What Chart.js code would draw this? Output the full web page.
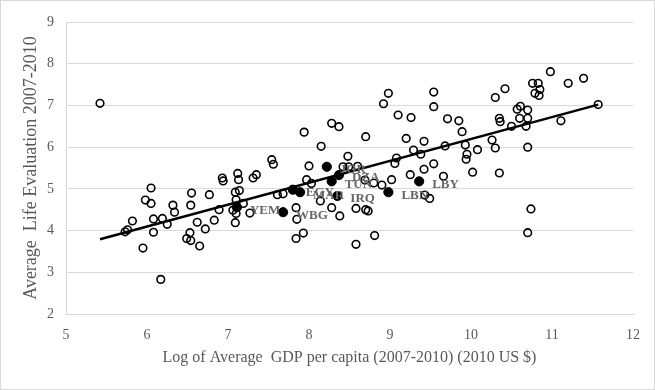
<!DOCTYPE html>
<html>
<head>
<meta charset="utf-8">
<script src="https://cdn.jsdelivr.net/npm/chart.js@4.4.0/dist/chart.umd.min.js"></script>
<style>
  html, body { margin: 0; padding: 0; background: #fff; }
  #wrap { width: 655px; height: 390px; }
</style>
</head>
<body>
<div id="wrap"><canvas id="happy" width="655" height="390"></canvas></div>
<script>
// other countries (open circles)
var gdpOther = [5.42, 5.73, 5.76, 5.82, 5.95, 5.98, 6.05, 6.05, 6.08, 6.08, 6.17, 6.19, 6.25, 6.32, 6.34,
  6.49, 6.53, 6.54, 6.55, 6.54, 6.62, 6.65, 6.72, 6.77, 6.83, 6.89, 6.93, 6.94, 7.12, 7.13,
  7.09, 7.14, 7.10, 7.06, 7.10, 7.09, 7.19, 7.27, 7.31, 7.35, 7.54, 7.56, 7.61, 7.68, 7.84,
  7.85, 7.93, 7.84, 7.94, 8.00, 8.15, 7.97, 8.03, 8.14, 8.28, 8.38, 8.28, 8.37, 8.48, 8.42,
  8.49, 8.60, 8.58, 8.70, 8.73, 8.58, 8.81, 8.69, 8.80, 8.90, 9.02, 8.70, 8.92, 8.98, 9.10,
  9.26, 9.20, 9.29, 9.38, 9.42, 9.08, 9.06, 9.25, 9.42, 9.54, 9.54, 9.54, 9.43, 9.49, 9.66,
  9.71, 9.68, 9.85, 9.89, 9.93, 9.95, 9.94, 10.02, 10.08, 10.26, 10.30, 10.30, 10.42, 10.35, 10.36,
  10.35, 10.50, 10.57, 10.61, 10.70, 10.60, 10.70, 10.68, 10.70, 10.76, 10.83, 10.79, 10.85, 10.84, 10.98,
  11.20, 11.39, 11.11, 11.57, 10.74, 10.70];
var lifeOther = [7.05, 3.97, 4.02, 4.23, 3.58, 4.73, 4.65, 5.02, 4.28, 3.96, 2.83, 4.29, 4.15, 4.61, 4.44,
  3.81, 3.95, 3.76, 4.90, 4.61, 4.20, 3.63, 4.04, 4.86, 4.25, 4.50, 5.26, 5.19, 5.37, 5.22,
  4.92, 4.96, 4.74, 4.49, 4.41, 4.19, 4.65, 4.42, 5.26, 5.34, 5.70, 5.59, 4.86, 4.88, 4.55,
  4.27, 3.94, 3.81, 6.36, 5.55, 6.02, 5.22, 5.13, 4.71, 4.55, 4.35, 6.57, 6.49, 5.78, 5.53,
  5.53, 5.54, 4.53, 4.50, 4.47, 3.67, 3.88, 5.21, 5.14, 5.09, 5.22, 6.25, 7.04, 7.29, 6.77,
  6.71, 6.21, 5.93, 5.83, 6.14, 5.74, 5.61, 5.34, 5.47, 7.32, 6.97, 5.60, 4.85, 4.77, 5.30,
  6.68, 6.03, 6.63, 6.37, 6.05, 5.83, 5.71, 5.40, 5.94, 6.17, 5.98, 7.19, 7.40, 6.69, 6.61,
  5.38, 6.50, 6.91, 6.98, 6.89, 6.69, 6.69, 6.50, 6.00, 7.53, 7.53, 7.29, 7.38, 7.24, 7.81,
  7.53, 7.65, 6.63, 7.02, 4.52, 3.95];

// arab countries (filled, labelled)
var arabCodes = ['YEM', 'WBG', 'EGY', 'MAR', 'JOR', 'TUN', 'DZA', 'IRQ', 'LBN', 'LBY'];
var gdpArab = [7.11, 7.68, 7.80, 7.89, 8.22, 8.28, 8.37, 8.35, 8.98, 9.36];
var lifeArab = [4.56, 4.44, 4.98, 4.92, 5.53, 5.18, 5.33, 4.83, 4.92, 5.18];

// fitted line, end points
var trendGdp = [5.42, 11.57];
var trendLife = [3.79, 7.02];

var xTicks = [5, 6, 7, 8, 9, 10, 11, 12];
var yTicks = [2, 3, 4, 5, 6, 7, 8, 9];

function toPts(xs, ys) {
  return xs.map(function (x, i) { return { x: x, y: ys[i] }; });
}

var serif = "'Liberation Serif', 'Times New Roman', serif";
var grey = '#595959';

var frame = {
  id: 'frame',
  beforeDraw: function (chart) {
    var c = chart.ctx;
    c.save();
    c.fillStyle = '#fff';
    c.fillRect(0, 0, chart.width, chart.height);
    c.strokeStyle = '#d9d9d9';
    c.lineWidth = 1;
    c.strokeRect(0.5, 0.5, chart.width - 1, chart.height - 1);
    c.restore();
  }
};

var codeLabels = {
  id: 'codeLabels',
  afterDatasetsDraw: function (chart) {
    var meta = chart.getDatasetMeta(1);
    var c = chart.ctx;
    c.save();
    c.font = 'bold 13px ' + serif;
    c.fillStyle = '#666666';
    c.textAlign = 'left';
    c.textBaseline = 'middle';
    meta.data.forEach(function (pt, i) {
      c.fillText(arabCodes[i], pt.x + 13, pt.y + 3);
    });
    c.restore();
  }
};

var ctx = document.getElementById('happy').getContext('2d');
var happyChart = new Chart(ctx, {
  type: 'scatter',
  data: {
    datasets: [{
      data: toPts(gdpOther, lifeOther),
      pointRadius: 3.8,
      pointBorderWidth: 1.6,
      pointBorderColor: '#000',
      pointBackgroundColor: 'rgba(0,0,0,0)',
      order: 3
    }, {
      data: toPts(gdpArab, lifeArab),
      pointRadius: 4.6,
      pointBorderWidth: 1,
      pointBorderColor: '#000',
      pointBackgroundColor: '#000',
      order: 2
    }, {
      type: 'line',
      data: toPts(trendGdp, trendLife),
      borderColor: '#000',
      borderWidth: 2.5,
      pointRadius: 0,
      fill: false,
      order: 1
    }]
  },
  options: {
    responsive: false,
    animation: false,
    devicePixelRatio: 1,
    layout: { padding: { left: 1, right: 22, top: 22, bottom: 0 } },
    plugins: {
      legend: { display: false },
      tooltip: { enabled: false }
    },
    scales: {
      x: {
        type: 'linear',
        min: 5,
        max: 12,
        afterBuildTicks: function (s) { s.ticks = xTicks.map(function (v) { return { value: v }; }); },
        afterFit: function (s) { s.height = 76; },
        grid: { display: false, drawTicks: false },
        border: { display: true, color: '#d9d9d9' },
        ticks: { padding: 13, color: grey, font: { family: serif, size: 14 } },
        title: {
          display: true,
          text: 'Log of Average  GDP per capita (2007-2010) (2010 US $)',
          color: grey,
          font: { family: serif, size: 16 },
          padding: { top: 0, bottom: 23 }
        }
      },
      y: {
        type: 'linear',
        min: 2,
        max: 9,
        afterBuildTicks: function (s) { s.ticks = yTicks.map(function (v) { return { value: v }; }); },
        afterFit: function (s) { s.width = 65; },
        grid: { color: '#d9d9d9', lineWidth: 1, drawTicks: false },
        border: { display: true, color: '#d9d9d9' },
        ticks: { padding: 12, color: grey, font: { family: serif, size: 14 } },
        title: {
          display: true,
          text: 'Average  Life Evaluation 2007-2010',
          color: grey,
          font: { family: serif, size: 18 },
          padding: { top: 19, bottom: 0 }
        }
      }
    }
  },
  plugins: [frame, codeLabels]
});
</script>
</body>
</html>
